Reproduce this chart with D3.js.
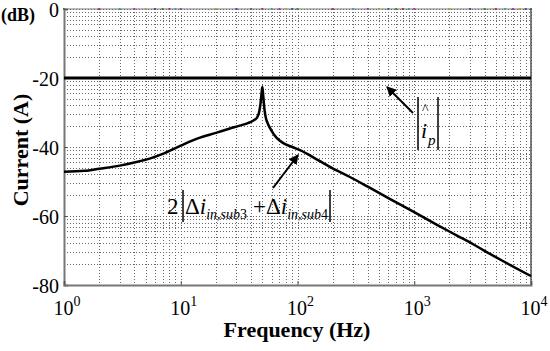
<!DOCTYPE html>
<html>
<head>
<meta charset="utf-8">
<script src="https://cdn.jsdelivr.net/npm/d3@7"></script>
<style>
  body { margin: 0; background: #fff; }
  svg, svg text { font-family: "Liberation Serif", "Times New Roman", serif !important; }
  svg { display: block; }
</style>
</head>
<body>
<svg id="chart"></svg>
<script>
const w = 550;
const h = 351;

// frequency response of 2|di_sub3 + di_sub4| (Hz, dB)
const freqs = [1, 1.5, 2, 3, 4, 5.5, 7, 10, 14, 20, 26, 32, 38, 42, 45, 47, 48.3, 49.3, 50, 50.7, 51.7, 53, 56, 60, 66, 75, 90, 105, 150, 200, 281, 400, 600, 1000, 1500, 2000, 2840, 4000, 6000, 10000];
const current = [-47.2, -46.9, -46.3, -45.4, -44.5, -43.3, -42.0, -39.6, -37.5, -35.9, -34.7, -33.8, -33.0, -32.3, -31.5, -29.8, -27.2, -24.2, -22.6, -24.5, -28.0, -30.8, -33.4, -35.3, -37.3, -38.8, -40.0, -40.9, -43.8, -46.2, -48.7, -51.5, -54.8, -58.9, -62.2, -64.5, -67.2, -70.1, -73.4, -77.4];
// peak current amplitude level (dB)
const peakLevel = -20;

const yTicks = [0, -20, -40, -60, -80];
const xDecades = [0, 1, 2, 3, 4];

const svg = d3.select("#chart")
  .attr("width", w)
  .attr("height", h)
  .attr("viewBox", [0, 0, w, h]);

const x = d3.scaleLog().domain([1, 1e4]).range([64, 531]);
const y = d3.scaleLinear().domain([-80, 0]).range([285, 9]);

// vertical grid: every decade and its 2..9 subdivisions
const vLines = [];
for (const d of xDecades) {
  for (let k = 1; k <= 9; k++) {
    const f = k * Math.pow(10, d);
    if (f <= 1e4) vLines.push(f);
  }
}
// horizontal grid: matlab spaced each 20 dB band like a log decade
const hLines = [];
for (let b = 0; b < 4; b++) {
  const bottom = -20 * (b + 1);
  for (let k = 1; k <= 10; k++) hLines.push(bottom + 20 * Math.log10(k));
}

const grid = svg.append("g").attr("class", "grid");
grid.selectAll("line.v")
  .data(vLines)
  .enter()
  .append("line")
  .attr("x1", d => Math.round(x(d)) + 0.5).attr("x2", d => Math.round(x(d)) + 0.5)
  .attr("y1", y(0)).attr("y2", y(-80))
  .attr("stroke", "#666")
  .attr("stroke-width", 1)
  .attr("stroke-dasharray", "1,2");
grid.selectAll("line.h")
  .data(hLines)
  .enter()
  .append("line")
  .attr("x1", x(1)).attr("x2", x(1e4))
  .attr("y1", d => Math.round(y(d)) + 0.5).attr("y2", d => Math.round(y(d)) + 0.5)
  .attr("stroke", "#666")
  .attr("stroke-width", 1)
  .attr("stroke-dasharray", "1,2");

// little coloured specks along the top edge (plot artefacts)
const specks = ["#00a000", "#e00000", "#00d0d0", "#e000e0", "#e0d000", "#2020e0"];
svg.append("g")
  .selectAll("rect")
  .data(vLines)
  .enter()
  .append("rect")
  .attr("x", d => x(d) - 1)
  .attr("y", y(0) - 1)
  .attr("width", 2)
  .attr("height", 2)
  .attr("fill", (d, i) => specks[i % specks.length]);

// frame
svg.append("line")
  .attr("x1", x(1)).attr("x2", x(1e4)).attr("y1", y(0)).attr("y2", y(0))
  .attr("stroke", "#777").attr("stroke-width", 1);
svg.append("line")
  .attr("x1", x(1e4)).attr("x2", x(1e4)).attr("y1", y(0)).attr("y2", y(-80))
  .attr("stroke", "#555").attr("stroke-width", 1.5);

const yAxis = d3.axisLeft(y).tickValues(yTicks).tickSize(-4).tickFormat(d => d === 0 ? "0" : "-" + Math.abs(d));
const yg = svg.append("g")
  .attr("transform", `translate(${x(1)},0)`)
  .call(yAxis)
  .attr("font-family", null);
yg.select(".domain").attr("stroke", "#777").attr("stroke-width", 2);
yg.selectAll(".tick line").attr("stroke", "#555");
yg.selectAll("text")
  .attr("x", -5)
  .attr("dy", "0.36em")
  .attr("font-size", 20)
  .attr("fill", "#000");

const xAxis = d3.axisBottom(x).tickValues(xDecades.map(d => Math.pow(10, d))).tickSize(-4).tickFormat("");
const xg = svg.append("g")
  .attr("transform", `translate(0,${y(-80)})`)
  .call(xAxis);
xg.select(".domain").attr("stroke", "#777").attr("stroke-width", 2);
xg.selectAll(".tick line").attr("stroke", "#555");

const xLabels = svg.append("g")
  .selectAll("text")
  .data(xDecades)
  .enter()
  .append("text")
  .attr("x", d => x(Math.pow(10, d)) + 3)
  .attr("y", 315)
  .attr("text-anchor", "middle")
  .attr("font-size", 20)
  .attr("fill", "#000");
xLabels.append("tspan").text("10");
xLabels.append("tspan").text(d => d).attr("font-size", 14).attr("dy", -9);

// axis titles
svg.append("text")
  .attr("x", 297).attr("y", 337)
  .attr("text-anchor", "middle")
  .attr("font-weight", "bold")
  .attr("font-size", 22)
  .text("Frequency (Hz)");
svg.append("text")
  .attr("transform", "translate(28,150) rotate(-90)")
  .attr("text-anchor", "middle")
  .attr("font-weight", "bold")
  .attr("font-size", 22)
  .text("Current (A)");
svg.append("text")
  .attr("x", 1).attr("y", 21)
  .attr("font-weight", "bold")
  .attr("font-size", 18)
  .text("(dB)");

// curves
svg.append("line")
  .attr("x1", x(1)).attr("x2", x(1e4))
  .attr("y1", y(peakLevel)).attr("y2", y(peakLevel))
  .attr("stroke", "#000").attr("stroke-width", 3);

const pts = freqs.map((f, i) => [f, current[i]]);
svg.append("path")
  .datum(pts)
  .attr("fill", "none")
  .attr("stroke", "#000")
  .attr("stroke-width", 2.5)
  .attr("d", d3.line().x(d => x(d[0])).y(d => y(d[1])).curve(d3.curveMonotoneX));

// arrows
svg.append("defs").append("marker")
  .attr("id", "head")
  .attr("viewBox", "0 0 10 10")
  .attr("refX", 9).attr("refY", 5)
  .attr("markerWidth", 5).attr("markerHeight", 5)
  .attr("orient", "auto")
  .append("path").attr("d", "M0,0 L10,5 L0,10 z").attr("fill", "#000");

function arrow(x1, y1, x2, y2) {
  svg.append("line")
    .attr("x1", x1).attr("y1", y1).attr("x2", x2).attr("y2", y2)
    .attr("stroke", "#000").attr("stroke-width", 2)
    .attr("marker-end", "url(#head)");
}
arrow(413, 113, 387, 87);
arrow(273, 188, 298, 155);

// |i_p hat| label
function bar(xp, y1, y2) {
  svg.append("line").attr("x1", xp).attr("x2", xp).attr("y1", y1).attr("y2", y2)
    .attr("stroke", "#000").attr("stroke-width", 1.5);
}
bar(418, 97, 150);
bar(438, 97, 150);
svg.append("text").attr("x", 422).attr("y", 114).attr("font-size", 14).text("^");
svg.append("text").attr("x", 421).attr("y", 138).attr("font-size", 22).attr("font-style", "italic").text("i");
svg.append("text").attr("x", 428).attr("y", 145).attr("font-size", 15).attr("font-style", "italic").text("p");

// 2|di_in,sub3 + di_in,sub4| label
svg.append("text").attr("x", 167).attr("y", 214).attr("font-size", 23).text("2");
bar(183, 190, 222);
bar(330, 190, 222);
const lab = svg.append("text").attr("x", 185).attr("y", 214).attr("font-size", 23);
lab.append("tspan").text("Δ");
lab.append("tspan").attr("font-style", "italic").text("i");
lab.append("tspan").attr("font-style", "italic").attr("font-size", 14).attr("dy", 5).text("in");
lab.append("tspan").attr("font-size", 14).text(",");
lab.append("tspan").attr("font-style", "italic").attr("font-size", 14).text("sub");
lab.append("tspan").attr("font-size", 14).text("3");
lab.append("tspan").attr("dy", -5).attr("dx", 6).text("+Δ");
lab.append("tspan").attr("font-style", "italic").text("i");
lab.append("tspan").attr("font-style", "italic").attr("font-size", 14).attr("dy", 5).text("in");
lab.append("tspan").attr("font-size", 14).text(",");
lab.append("tspan").attr("font-style", "italic").attr("font-size", 14).text("sub");
lab.append("tspan").attr("font-size", 14).text("4");
</script>
</body>
</html>
